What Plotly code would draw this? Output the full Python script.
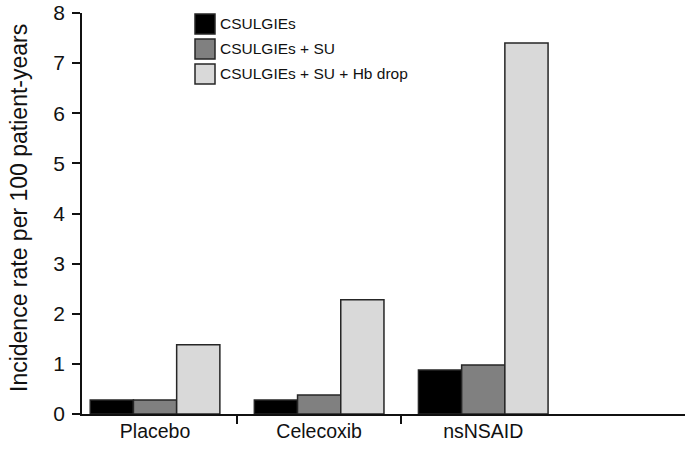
import plotly.graph_objects as go

CATEGORIES = ["Placebo", "Celecoxib", "nsNSAID"]
SERIES = ["CSULGIEs", "CSULGIEs + SU", "CSULGIEs + SU + Hb drop"]
VALUES = {
    "CSULGIEs": [0.28, 0.28, 0.88],
    "CSULGIEs + SU": [0.28, 0.38, 0.98],
    "CSULGIEs + SU + Hb drop": [1.38, 2.28, 7.4],
}
COLORS = ["#000000", "#808080", "#d9d9d9"]
Y_TICKS = [0, 1, 2, 3, 4, 5, 6, 7, 8]

FONT = "Liberation Sans, Arial, sans-serif"
W, H = 685, 454
L, R, T, B = 82, 0, 13, 40
PW, PH = W - L - R, H - T - B
CAT_PX = 164.1          # pixels per category slot
X0 = -0.5 + 9 / CAT_PX  # y axis sits a little right of the first slot edge


# helpers: figure pixel -> paper coordinate
def px(x):
    return (x - L) / PW


def py(y):
    return (H - B - y) / PH


xpos = list(range(len(CATEGORIES)))
bounds = [p - 0.5 for p in xpos]

fig = go.Figure()
for name, color in zip(SERIES, COLORS):
    fig.add_trace(go.Bar(
        x=xpos,
        y=VALUES[name],
        name=name,
        marker=dict(color=color, line=dict(color="#262626", width=1.5)),
    ))

# invisible helper trace so the label axis is drawn
fig.add_trace(go.Scatter(x=xpos, y=[0] * len(xpos), xaxis="x2", mode="markers",
                         marker=dict(opacity=0), showlegend=False, hoverinfo="skip"))

# legend drawn by hand to get the large square keys
shapes, annots = [], []
for i, (name, color) in enumerate(zip(SERIES, COLORS)):
    cy = 24 + i * 25
    shapes.append(dict(
        type="rect", xref="paper", yref="paper",
        x0=px(195), x1=px(215), y0=py(cy + 10), y1=py(cy - 10),
        fillcolor=color, line=dict(color="#262626", width=1.5),
    ))
    annots.append(dict(
        text=name, xref="paper", yref="paper", x=px(218), y=py(cy),
        xanchor="left", yanchor="middle", showarrow=False,
        font=dict(size=15.5, color="#111111"),
    ))

annots.append(dict(
    text="Incidence rate per 100 patient-years", textangle=-90,
    xref="paper", yref="paper", x=px(19), y=py(208),
    xanchor="center", yanchor="middle", showarrow=False,
    font=dict(size=23, color="#111111"),
))

fig.update_layout(
    width=W, height=H,
    margin=dict(l=L, r=R, t=T, b=B, autoexpand=False),
    paper_bgcolor="white", plot_bgcolor="white",
    font=dict(family=FONT, color="#111111", size=19),
    barmode="group",
    bargap=0.21,
    bargroupgap=0,
    showlegend=False,
    shapes=shapes,
    annotations=annots,
    xaxis=dict(
        range=[X0, X0 + PW / CAT_PX], showgrid=False, zeroline=False, automargin=False,
        showline=True, linecolor="#111111", linewidth=1.5,
        tickvals=bounds, ticks="outside", ticklen=8, tickwidth=1.5, tickcolor="#111111",
        showticklabels=False,
    ),
    xaxis2=dict(
        overlaying="x", matches="x", anchor="y", side="bottom", automargin=False,
        showgrid=False, zeroline=False, showline=False,
        tickvals=xpos, ticktext=CATEGORIES, ticks="", ticklabelstandoff=3,
        tickfont=dict(size=19.5),
    ),
    yaxis=dict(
        range=[0, 8], automargin=False,
        showgrid=False, zeroline=False, ticklabeloverflow="allow",
        showline=True, linecolor="#111111", linewidth=1.5,
        tickvals=Y_TICKS, ticks="outside", ticklen=8, tickwidth=1.5, tickcolor="#111111",
        tickfont=dict(size=21), ticklabelstandoff=3,
    ),
)

# drop the browser's default body margin so the figure sits at the window corner
fig.write_html("out.html", config={"displayModeBar": False},
               post_script="document.body.style.margin = '0';")
